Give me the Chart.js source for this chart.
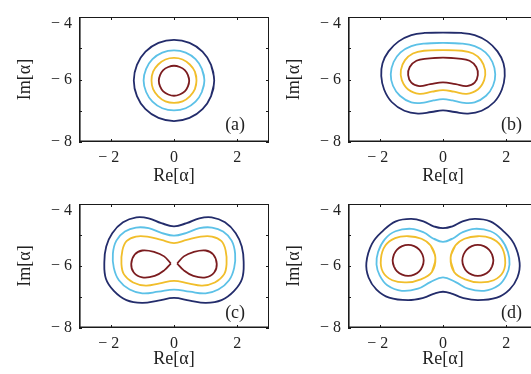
<!DOCTYPE html>
<html><head><meta charset="utf-8">
<script src="https://cdn.jsdelivr.net/npm/chart.js@4/dist/chart.umd.min.js"></script>
<style>
html,body{margin:0;padding:0;background:#fff;width:531px;height:374px;overflow:hidden;position:relative}
canvas{position:absolute}
</style></head><body>
<canvas id="pa" width="270" height="187" style="left:0;top:0"></canvas>
<canvas id="pb" width="270" height="187" style="left:269px;top:0"></canvas>
<canvas id="pc" width="270" height="187" style="left:0;top:187px"></canvas>
<canvas id="pd" width="270" height="187" style="left:269px;top:187px"></canvas>
<script>
// ---- axes ----
const xTickValues = [-2, 0, 2];
const xTickLabels = ['\u2212 2 ', '0', '2'];
const yTickValues = [-8, -7, -6, -5, -4];
const yLabelValues = [-4, -6, -8];
const yTickLabels = ['\u2212 4', '\u2212 6', '\u2212 8'];
const panelLabels = ['(a)', '(b)', '(c)', '(d)'];

// ---- panel (a) ----
const aNavy = [[1.27,-6.03],[1.17,-5.53],[0.90,-5.11],[0.49,-4.83],[0,-4.73],[-0.49,-4.83],[-0.90,-5.11],[-1.17,-5.53],[-1.27,-6.03],[-1.17,-6.53],[-0.90,-6.95],[-0.49,-7.23],[0,-7.33],[0.49,-7.23],[0.90,-6.95],[1.17,-6.53]];
const aCyan = [[0.96,-6.03],[0.88,-5.66],[0.68,-5.35],[0.37,-5.14],[0,-5.07],[-0.37,-5.14],[-0.68,-5.35],[-0.88,-5.66],[-0.96,-6.03],[-0.88,-6.40],[-0.68,-6.71],[-0.37,-6.92],[0,-6.99],[0.37,-6.92],[0.68,-6.71],[0.88,-6.40]];
const aYellow = [[0.71,-6.03],[0.66,-5.75],[0.50,-5.52],[0.27,-5.36],[0,-5.31],[-0.27,-5.36],[-0.50,-5.52],[-0.66,-5.75],[-0.71,-6.03],[-0.66,-6.31],[-0.50,-6.54],[-0.27,-6.70],[0,-6.75],[0.27,-6.70],[0.50,-6.54],[0.66,-6.31]];
const aMaroon = [[0.48,-6.04],[0.44,-5.86],[0.34,-5.70],[0.18,-5.60],[0,-5.56],[-0.18,-5.60],[-0.34,-5.70],[-0.44,-5.86],[-0.48,-6.04],[-0.44,-6.22],[-0.34,-6.38],[-0.18,-6.48],[0,-6.52],[0.18,-6.48],[0.34,-6.38],[0.44,-6.22]];

// ---- panel (b) ----
const bNavy = [[0,-4.50],[0.58,-4.51],[1.0,-4.58],[1.4,-4.78],[1.72,-5.10],[1.91,-5.48],[1.95,-5.89],[1.86,-6.32],[1.62,-6.72],[1.22,-7.00],[0.79,-7.09],[0.37,-7.04],[0,-6.99],[-0.37,-7.04],[-0.79,-7.09],[-1.22,-7.00],[-1.62,-6.72],[-1.86,-6.32],[-1.95,-5.89],[-1.91,-5.48],[-1.72,-5.10],[-1.4,-4.78],[-1.0,-4.58],[-0.58,-4.51]];
const bCyan = [[0,-4.83],[0.6,-4.85],[1.0,-4.93],[1.34,-5.13],[1.56,-5.44],[1.65,-5.83],[1.58,-6.20],[1.36,-6.52],[1.0,-6.73],[0.6,-6.74],[0.3,-6.67],[0,-6.63],[-0.3,-6.67],[-0.6,-6.74],[-1.0,-6.73],[-1.36,-6.52],[-1.58,-6.20],[-1.65,-5.83],[-1.56,-5.44],[-1.34,-5.13],[-1.0,-4.93],[-0.6,-4.85]];
const bYellow = [[0,-5.06],[0.6,-5.08],[0.95,-5.17],[1.2,-5.38],[1.33,-5.70],[1.30,-6.02],[1.1,-6.32],[0.75,-6.46],[0.35,-6.39],[0,-6.34],[-0.35,-6.39],[-0.75,-6.46],[-1.1,-6.32],[-1.30,-6.02],[-1.33,-5.70],[-1.2,-5.38],[-0.95,-5.17],[-0.6,-5.08]];
const bMaroon = [[0,-5.30],[0.5,-5.33],[0.84,-5.40],[1.05,-5.60],[1.10,-5.86],[1.0,-6.10],[0.75,-6.21],[0.4,-6.15],[0,-6.09],[-0.4,-6.15],[-0.75,-6.21],[-1.0,-6.10],[-1.10,-5.86],[-1.05,-5.60],[-0.84,-5.40],[-0.5,-5.33]];

// ---- panel (c) ----
const cNavy = [[0,-4.72],[0.4,-4.62],[0.8,-4.46],[1.19,-4.43],[1.61,-4.59],[1.95,-4.94],[2.14,-5.37],[2.20,-5.87],[2.15,-6.41],[1.90,-6.80],[1.50,-7.10],[1.01,-7.19],[0.5,-7.12],[0,-7.03],[-0.5,-7.12],[-1.01,-7.19],[-1.50,-7.10],[-1.90,-6.80],[-2.15,-6.41],[-2.20,-5.87],[-2.14,-5.37],[-1.95,-4.94],[-1.61,-4.59],[-1.19,-4.43],[-0.8,-4.46],[-0.4,-4.62]];
const cCyan = [[0,-5.02],[0.4,-4.93],[0.8,-4.78],[1.2,-4.76],[1.55,-4.89],[1.82,-5.18],[1.93,-5.60],[1.90,-6.06],[1.74,-6.46],[1.40,-6.76],[1.0,-6.88],[0.5,-6.83],[0,-6.76],[-0.5,-6.83],[-1.0,-6.88],[-1.40,-6.76],[-1.74,-6.46],[-1.90,-6.06],[-1.93,-5.60],[-1.82,-5.18],[-1.55,-4.89],[-1.2,-4.76],[-0.8,-4.78],[-0.4,-4.93]];
const cYellow = [[0,-5.26],[0.4,-5.16],[0.8,-5.06],[1.2,-5.05],[1.5,-5.20],[1.63,-5.50],[1.66,-5.93],[1.58,-6.27],[1.29,-6.53],[0.89,-6.63],[0.45,-6.56],[0,-6.48],[-0.45,-6.56],[-0.89,-6.63],[-1.29,-6.53],[-1.58,-6.27],[-1.66,-5.93],[-1.63,-5.50],[-1.5,-5.20],[-1.2,-5.05],[-0.8,-5.06],[-0.4,-5.16]];
const cMaroonRight = [[0.10,-5.92],[0.31,-5.69],[0.61,-5.55],[1.0,-5.50],[1.24,-5.63],[1.35,-5.93],[1.27,-6.21],[1.0,-6.37],[0.61,-6.32],[0.31,-6.14]];
const cMaroonLeft = [[-0.10,-5.92],[-0.31,-5.69],[-0.61,-5.55],[-1.0,-5.50],[-1.24,-5.63],[-1.35,-5.93],[-1.27,-6.21],[-1.0,-6.37],[-0.61,-6.32],[-0.31,-6.14]];

// ---- panel (d) ----
const dNavy = [[0,-4.78],[0.3,-4.72],[0.6,-4.57],[1.0,-4.48],[1.49,-4.56],[1.89,-4.86],[2.24,-5.28],[2.42,-5.90],[2.35,-6.37],[2.10,-6.76],[1.70,-7.02],[1.10,-7.10],[0.6,-7.02],[0.3,-6.90],[0,-6.83],[-0.3,-6.90],[-0.6,-7.02],[-1.10,-7.10],[-1.70,-7.02],[-2.10,-6.76],[-2.35,-6.37],[-2.42,-5.90],[-2.24,-5.28],[-1.89,-4.86],[-1.49,-4.56],[-1.0,-4.48],[-0.6,-4.57],[-0.3,-4.72]];
const dCyan = [[0,-5.22],[0.3,-5.12],[0.6,-4.92],[1.0,-4.80],[1.5,-4.88],[1.84,-5.14],[2.05,-5.55],[2.10,-5.95],[2.0,-6.30],[1.76,-6.62],[1.30,-6.80],[0.79,-6.73],[0.4,-6.52],[0,-6.37],[-0.4,-6.52],[-0.79,-6.73],[-1.30,-6.80],[-1.76,-6.62],[-2.0,-6.30],[-2.10,-5.95],[-2.05,-5.55],[-1.84,-5.14],[-1.5,-4.88],[-1.0,-4.80],[-0.6,-4.92],[-0.3,-5.12]];
const dYellowRight = [[0.24,-5.74],[0.39,-5.34],[0.68,-5.12],[1.10,-5.04],[1.51,-5.10],[1.82,-5.34],[1.96,-5.76],[1.90,-6.19],[1.60,-6.46],[1.15,-6.53],[0.70,-6.43],[0.35,-6.19]];
const dYellowLeft = [[-0.24,-5.74],[-0.39,-5.34],[-0.68,-5.12],[-1.10,-5.04],[-1.51,-5.10],[-1.82,-5.34],[-1.96,-5.76],[-1.90,-6.19],[-1.60,-6.46],[-1.15,-6.53],[-0.70,-6.43],[-0.35,-6.19]];
const dMaroonRight = [[1.59,-5.82],[1.55,-5.63],[1.45,-5.47],[1.29,-5.36],[1.10,-5.32],[0.91,-5.36],[0.75,-5.47],[0.65,-5.63],[0.61,-5.82],[0.65,-6.01],[0.75,-6.17],[0.91,-6.28],[1.10,-6.32],[1.29,-6.28],[1.45,-6.17],[1.55,-6.01]];
const dMaroonLeft = [[-1.59,-5.82],[-1.55,-5.63],[-1.45,-5.47],[-1.29,-5.36],[-1.10,-5.32],[-0.91,-5.36],[-0.75,-5.47],[-0.65,-5.63],[-0.61,-5.82],[-0.65,-6.01],[-0.75,-6.17],[-0.91,-6.28],[-1.10,-6.32],[-1.29,-6.28],[-1.45,-6.17],[-1.55,-6.01]];

// ---- styling ----
const NAVY = '#232c6b', CYAN = '#5cc1e7', YELLOW = '#f1be2b', MAROON = '#7b1c1f';
const TEXT = '#222';
const FONT = '"Liberation Serif", "DejaVu Serif", serif';

const xy = p => ({x: p[0], y: p[1]});
const smoothLoop = pts => [pts[pts.length - 1], ...pts, pts[0], pts[1]].map(xy);
const tipLoop = pts => [...pts, pts[0]].map(xy);

function ds(data, color) {
  return {data, borderColor: color, backgroundColor: color, borderWidth: 1.8, showLine: true,
    pointRadius: 0, pointHoverRadius: 0, tension: 0.4, fill: false};
}

const framePlugin = {
  id: 'frame',
  afterDatasetsDraw(chart, args, opts) {
    const {ctx, chartArea: a, scales: {x, y}} = chart;
    ctx.save();
    ctx.strokeStyle = '#1a1a1a';
    ctx.lineWidth = 1;
    ctx.beginPath();
    ctx.moveTo(a.left, a.top + 0.5); ctx.lineTo(a.right, a.top + 0.5);
    ctx.moveTo(a.right - 0.5, a.top); ctx.lineTo(a.right - 0.5, a.bottom);
    ctx.stroke();
    ctx.lineWidth = 1.6;
    ctx.beginPath();
    ctx.moveTo(a.left + 0.8, a.top); ctx.lineTo(a.left + 0.8, a.bottom);
    ctx.moveTo(a.left, a.bottom - 0.8); ctx.lineTo(a.right, a.bottom - 0.8);
    ctx.stroke();
    ctx.lineWidth = 1;
    ctx.beginPath();
    xTickValues.forEach(v => {
      const px = Math.round(x.getPixelForValue(v)) + 0.5;
      ctx.moveTo(px, a.bottom); ctx.lineTo(px, a.bottom - 3);
      ctx.moveTo(px, a.top); ctx.lineTo(px, a.top + 3);
    });
    yTickValues.forEach(v => {
      const py = Math.round(y.getPixelForValue(v)) + 0.5;
      ctx.moveTo(a.left, py); ctx.lineTo(a.left + 3, py);
      ctx.moveTo(a.right, py); ctx.lineTo(a.right - 3, py);
    });
    ctx.stroke();
    ctx.fillStyle = TEXT;
    ctx.font = '18px ' + FONT;
    ctx.textAlign = 'center';
    ctx.textBaseline = 'middle';
    ctx.fillText(opts.text, x.getPixelForValue(opts.x), y.getPixelForValue(opts.y));
    ctx.restore();
  }
};

function makePanel(id, datasets, label, lx, ly, xAxisH, titlePadBottom) {
  new Chart(document.getElementById(id), {
    type: 'scatter',
    data: {datasets},
    options: {
      responsive: false, animation: false, events: [],
      layout: {padding: {top: 17, right: 1, left: 0, bottom: 0}},
      plugins: {legend: {display: false}, tooltip: {enabled: false},
        frame: {text: label, x: lx, y: ly}},
      scales: {
        x: {
          type: 'linear', min: -3, max: 3,
          afterBuildTicks: s => { s.ticks = xTickValues.map(v => ({value: v})); },
          ticks: {callback: v => xTickLabels[xTickValues.indexOf(v)], padding: 6, maxRotation: 0,
            autoSkip: false, color: TEXT, font: {family: FONT, size: 16, lineHeight: 1.2}},
          grid: {display: false, drawTicks: false},
          border: {display: false},
          title: {display: true, text: 'Re[\u03b1]', color: TEXT,
            font: {family: FONT, size: 18, lineHeight: 1.2}, padding: {top: 0, bottom: titlePadBottom}},
          afterFit: s => { s.height = xAxisH; s.paddingLeft = 0; s.paddingRight = 0; }
        },
        y: {
          type: 'linear', min: -8, max: -4,
          afterBuildTicks: s => { s.ticks = yTickValues.map(v => ({value: v})); },
          ticks: {callback: v => {
              const i = yLabelValues.indexOf(v);
              if (i < 0) return '';
              return v === -4 ? ['', yTickLabels[i]] : yTickLabels[i];
            }, padding: 7, autoSkip: false, color: TEXT,
            font: {family: FONT, size: 16, lineHeight: 0.8}},
          grid: {display: false, drawTicks: false},
          border: {display: false},
          title: {display: true, text: 'Im[\u03b1]', color: TEXT,
            font: {family: FONT, size: 18, lineHeight: 1.2}, padding: {top: 14, bottom: 0}},
          afterFit: s => { s.width = 79; s.paddingTop = 0; s.paddingBottom = 0; }
        }
      }
    },
    plugins: [framePlugin]
  });
}

makePanel('pa', [
  ds(smoothLoop(aNavy), NAVY), ds(smoothLoop(aCyan), CYAN),
  ds(smoothLoop(aYellow), YELLOW), ds(smoothLoop(aMaroon), MAROON)
], panelLabels[0], 1.93, -7.48, 45, 0);

makePanel('pb', [
  ds(smoothLoop(bNavy), NAVY), ds(smoothLoop(bCyan), CYAN),
  ds(smoothLoop(bYellow), YELLOW), ds(smoothLoop(bMaroon), MAROON)
], panelLabels[1], 2.16, -7.48, 45, 0);

makePanel('pc', [
  ds(smoothLoop(cNavy), NAVY), ds(smoothLoop(cCyan), CYAN),
  ds(smoothLoop(cYellow), YELLOW), ds(tipLoop(cMaroonRight), MAROON), ds(tipLoop(cMaroonLeft), MAROON)
], panelLabels[2], 1.93, -7.53, 46, 4);

makePanel('pd', [
  ds(smoothLoop(dNavy), NAVY), ds(smoothLoop(dCyan), CYAN),
  ds(smoothLoop(dYellowRight), YELLOW), ds(smoothLoop(dYellowLeft), YELLOW),
  ds(smoothLoop(dMaroonRight), MAROON), ds(smoothLoop(dMaroonLeft), MAROON)
], panelLabels[3], 2.16, -7.53, 46, 4);
</script>
</body></html>
